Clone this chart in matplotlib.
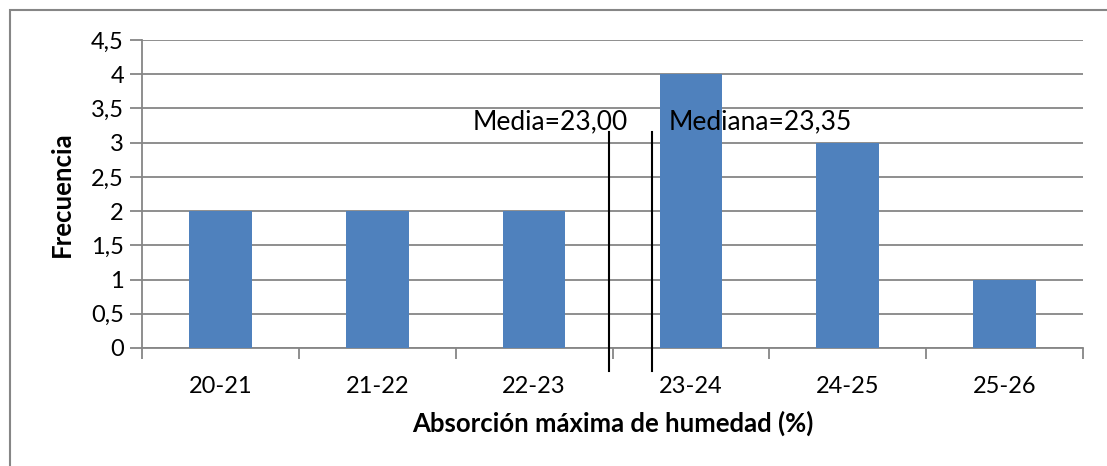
import numpy as np
import matplotlib.pyplot as plt
from matplotlib.patches import Rectangle

categorias = ['20-21', '21-22', '22-23', '23-24', '24-25', '25-26']
frecuencia = [2, 2, 2, 4, 3, 1]
media = '23,00'
mediana = '23,35'

plt.rcParams['font.family'] = ['Lato', 'DejaVu Sans']

fig = plt.figure(figsize=(11.07, 4.66), dpi=100)
ax = fig.add_axes([142 / 1107, 118 / 466, 941 / 1107, 308 / 466])

x = np.arange(len(categorias))
ax.bar(x, frecuencia, width=0.4, color='#4F81BD', zorder=3)

ax.set_xlim(-0.5, len(categorias) - 0.5)
ax.set_ylim(0, 4.5)
ax.set_yticks(np.arange(0, 4.51, 0.5))
ax.set_yticklabels([('%g' % v).replace('.', ',') for v in np.arange(0, 4.51, 0.5)], fontsize=17)
ax.set_xticks(x)
ax.set_xticklabels(categorias, fontsize=17)
ax.set_xticks(np.arange(-0.5, len(categorias), 1), minor=True)
ax.tick_params(axis='x', which='major', length=0, pad=20)
ax.tick_params(axis='x', which='minor', length=8, color='#868686', width=1.3)
ax.tick_params(axis='y', length=9, color='#868686', width=1.3, pad=4)

ax.grid(axis='y', color='#868686', linewidth=1.3, zorder=0)
for s in ['top', 'right']:
    ax.spines[s].set_visible(False)
for s in ['left', 'bottom']:
    ax.spines[s].set_color('#868686')
    ax.spines[s].set_linewidth(1.3)

ax.set_xlabel('Absorción máxima de humedad (%)', fontsize=18.5, fontweight='bold', labelpad=10)
ax.set_ylabel('Frecuencia', fontsize=18.5, fontweight='bold', labelpad=12)

# lineas de media y mediana
ax.plot([2.478, 2.478], [-0.33, 3.16], color='black', lw=1.5, clip_on=False, zorder=4)
ax.plot([2.752, 2.752], [-0.33, 3.16], color='black', lw=1.5, clip_on=False, zorder=4)
ax.text(2.60, 3.30, 'Media=' + media, fontsize=19, ha='right', va='center', zorder=5)
ax.text(2.86, 3.30, 'Mediana=' + mediana, fontsize=19, ha='left', va='center', zorder=5)

fig.patches.append(Rectangle((9.5 / 1107, -0.1), 1.2, 1 - 10 / 466 + 0.1,
                             transform=fig.transFigure, fill=False,
                             edgecolor='#868686', linewidth=1.5))

fig.savefig('out.png', dpi=100)
